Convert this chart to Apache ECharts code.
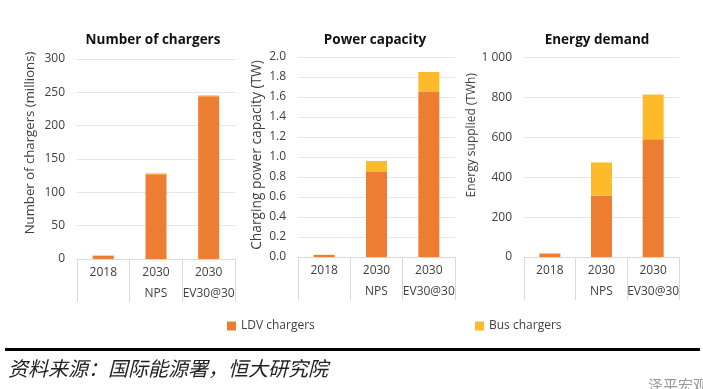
<!DOCTYPE html>
<html>
<head>
<meta charset="utf-8">
<script src="https://cdn.jsdelivr.net/npm/echarts@6/dist/echarts.min.js"></script>
<style>html,body{margin:0;padding:0;background:#fff}#c{width:703px;height:389px}</style>
</head>
<body>
<div id="c"></div>
<script>
var categories = ['2018', '2030\nNPS', '2030\nEV30@30'];
var chargersLDV = [5, 127, 244];
var chargersBus = [0.3, 1.5, 1.5];
var powerLDV = [0.02, 0.85, 1.65];
var powerBus = [0.003, 0.11, 0.20];
var energyLDV = [17, 307, 590];
var energyBus = [2, 167, 225];
var panelTitles = ['Number of chargers', 'Power capacity', 'Energy demand'];
var yNames = ['Number of chargers (millions)', 'Charging power capacity (TW)', 'Energy supplied (TWh)'];
var seriesNames = ['LDV chargers', 'Bus chargers'];
var sourceText = '资料来源：国际能源署，恒大研究院';
var watermark = '泽平宏观';

var LDV = '#ED7D31', BUS = '#FDBB2C';
var FONT = 'Open Sans';
var grids = [
  {left: 77, width: 158, top: 59, height: 200},
  {left: 298, width: 157, top: 57, height: 200},
  {left: 524, width: 155, top: 57.5, height: 199.5}
];
var yCfg = [
  {max: 300, interval: 50, fmt: function (v) { return v; }, gap: 40, size: 13.2, pad: 32},
  {max: 2, interval: 0.2, fmt: function (v) { return v.toFixed(1); }, gap: 34, size: 13.8, pad: 4},
  {max: 1000, interval: 200, fmt: function (v) { return v >= 1000 ? '1 000' : v; }, gap: 38, size: 12, pad: 44}
];
var data = [[chargersLDV, chargersBus], [powerLDV, powerBus], [energyLDV, energyBus]];
var titleX = [153, 375, 597];

var xAxes = [], yAxes = [], series = [], graphics = [];
for (var i = 0; i < 3; i++) {
  xAxes.push({
    type: 'category', gridIndex: i, data: categories,
    axisLine: {lineStyle: {color: '#d9d9d9'}},
    axisTick: {show: true, interval: 0, length: 43, lineStyle: {color: '#d9d9d9'}},
    axisLabel: {interval: 0, color: '#404040', fontFamily: FONT, fontSize: 12, lineHeight: 21, margin: 3}
  });
  yAxes.push({
    type: 'value', gridIndex: i, min: 0, max: yCfg[i].max, interval: yCfg[i].interval,
    name: yNames[i], nameLocation: 'middle', nameGap: yCfg[i].gap,
    nameTextStyle: {color: '#404040', fontFamily: FONT, fontSize: yCfg[i].size, padding: [0, 0, 0, yCfg[i].pad]},
    axisLine: {show: false}, axisTick: {show: false},
    axisLabel: {color: '#404040', fontFamily: FONT, fontSize: 12, formatter: yCfg[i].fmt, margin: 12},
    splitLine: {lineStyle: {color: '#e6e6e6'}}
  });
  for (var s = 0; s < 2; s++) {
    series.push({
      type: 'bar', name: seriesNames[s], xAxisIndex: i, yAxisIndex: i,
      stack: 'st' + i, barWidth: 21, data: data[i][s],
      itemStyle: {color: s === 0 ? LDV : BUS}
    });
  }
  graphics.push({
    type: 'text', x: titleX[i], y: 40,
    style: {text: panelTitles[i], fill: '#111', font: 'bold 13.5px "' + FONT + '"', align: 'center', verticalAlign: 'middle', textAlign: 'center', textVerticalAlign: 'middle'}
  });
}
graphics.push({type: 'rect', shape: {x: 5, y: 348, width: 695, height: 3}, style: {fill: '#000'}});
graphics.push({type: 'text', x: 8, y: 368, style: {text: sourceText, fill: '#222', font: 'italic 20px "Noto Sans CJK SC"', verticalAlign: 'middle', textVerticalAlign: 'middle'}});
graphics.push({type: 'text', x: 648, y: 385, style: {text: watermark, fill: '#999', font: '15px "Noto Sans CJK SC"', verticalAlign: 'middle', textVerticalAlign: 'middle'}});

var chart = echarts.init(document.getElementById('c'));
chart.setOption({
  animation: false,
  grid: grids,
  xAxis: xAxes,
  yAxis: yAxes,
  legend: [
    {data: [seriesNames[0]], left: 222, top: 315, itemWidth: 9, itemHeight: 9, itemGap: 4, icon: 'rect',
     textStyle: {color: '#404040', fontFamily: FONT, fontSize: 12}},
    {data: [seriesNames[1]], left: 470, top: 315, itemWidth: 9, itemHeight: 9, itemGap: 4, icon: 'rect',
     textStyle: {color: '#404040', fontFamily: FONT, fontSize: 12}}
  ],
  series: series,
  graphic: graphics
});
</script>
</body>
</html>
